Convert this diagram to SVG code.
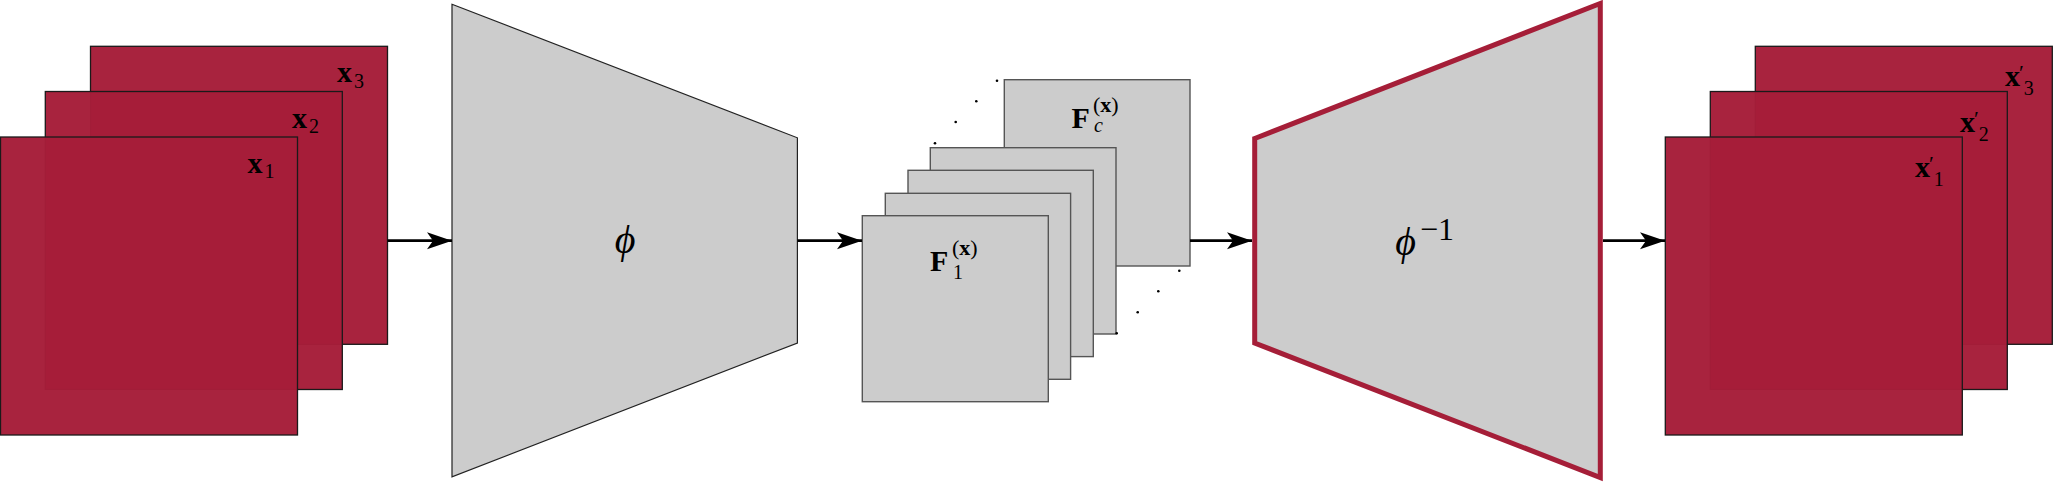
<svg xmlns="http://www.w3.org/2000/svg" width="2053" height="482" viewBox="0 0 2053 482">
<style>
.red{fill:#a61e39;fill-opacity:0.975;stroke:#1a1a1a;stroke-width:1.3}
.fm{fill:#cccccc;stroke:#555555;stroke-width:1.4}
.trap{fill:#cccccc;stroke:#222222;stroke-width:1.2}
.trapr{fill:#cccccc;stroke:#a51e38;stroke-width:5}
.lbl{font-family:"Liberation Serif","DejaVu Serif",serif;fill:#000}
.b{font-weight:bold;font-size:30px}
.s{font-size:20px}
.sp{font-size:22px}
.pr{font-size:22px}
.phi{font-family:"Liberation Serif","DejaVu Serif",serif;font-style:italic;font-size:40px;fill:#000}
.conn{stroke:#000;stroke-width:2.8;fill:none}
.dot{fill:#000}
</style>
<defs>
<marker id="stealth" markerUnits="userSpaceOnUse" viewBox="-26 -10 27 20" refX="0" refY="0" markerWidth="27" markerHeight="20" orient="auto">
<path d="M0,0 L-25,-8.5 L-19,0 L-25,8.5 Z" fill="#000"/>
</marker>
</defs>

<g id="input-stack">
<g id="x3"><rect class="red" x="90.5" y="46.3" width="297" height="298"/>
<text class="lbl b" x="337" y="81.7">x</text><text class="lbl s" x="354" y="87.5">3</text></g>
<g id="x2"><rect class="red" x="45.3" y="91.5" width="297" height="298"/>
<text class="lbl b" x="292" y="127.5">x</text><text class="lbl s" x="309" y="133">2</text></g>
<g id="x1"><rect class="red" x="0.5" y="137" width="297" height="298"/>
<text class="lbl b" x="247.5" y="172.5">x</text><text class="lbl s" x="264.5" y="178">1</text></g>
</g>

<g id="encoder">
<path class="trap" d="M452,4.3 L797.4,137.8 L797.4,343 L452,476.8 Z"/>
<text class="phi" x="625" y="253" text-anchor="middle">ϕ</text>
</g>

<g id="feature-maps">
<g id="Fc"><rect class="fm" x="1004.3" y="79.7" width="185.7" height="186.3"/>
<text class="lbl b" x="1071.5" y="128.3">F</text><text class="lbl sp" x="1093" y="112">(<tspan font-weight="bold">x</tspan>)</text><text class="lbl s" x="1094" y="132" font-style="italic">c</text></g>
<g id="F4"><rect class="fm" x="930.3" y="147.7" width="185.7" height="186.3"/></g>
<g id="F3"><rect class="fm" x="908" y="170.3" width="185.3" height="186.3"/></g>
<g id="F2"><rect class="fm" x="885.3" y="193.3" width="185.3" height="186"/></g>
<g id="F1"><rect class="fm" x="862.3" y="215.7" width="186" height="186"/>
<text class="lbl b" x="930" y="271">F</text><text class="lbl sp" x="952" y="255">(<tspan font-weight="bold">x</tspan>)</text><text class="lbl s" x="953" y="278.5">1</text></g>
<g id="dots">
<circle class="dot" cx="997" cy="80.7" r="1.3"/>
<circle class="dot" cx="976.3" cy="101.3" r="1.3"/>
<circle class="dot" cx="955.7" cy="122" r="1.3"/>
<circle class="dot" cx="935" cy="143.3" r="1.3"/>
<circle class="dot" cx="1179.3" cy="270.7" r="1.3"/>
<circle class="dot" cx="1158.3" cy="291.3" r="1.3"/>
<circle class="dot" cx="1137.7" cy="312.3" r="1.3"/>
<circle class="dot" cx="1116.7" cy="333.3" r="1.3"/>
</g>
</g>

<g id="decoder">
<path class="trapr" d="M1254.7,138.5 L1600.3,3.5 L1600.3,477.5 L1254.7,343 Z"/>
<text class="phi" x="1405.5" y="255" text-anchor="middle">ϕ</text>
<text class="lbl" x="1420" y="239.5" font-size="32">−1</text>
</g>

<g id="output-stack">
<g id="x3p"><rect class="red" x="1755.3" y="46.3" width="297" height="298"/>
<text class="lbl" x="2005" y="86"><tspan class="b">x</tspan><tspan class="pr" dx="-1" dy="-6">′</tspan><tspan class="s" dy="15">3</tspan></text></g>
<g id="x2p"><rect class="red" x="1710.3" y="91.5" width="297" height="298"/>
<text class="lbl" x="1960" y="131.7"><tspan class="b">x</tspan><tspan class="pr" dx="-1" dy="-6">′</tspan><tspan class="s" dy="15">2</tspan></text></g>
<g id="x1p"><rect class="red" x="1665.3" y="137" width="297" height="298"/>
<text class="lbl" x="1915" y="176.7"><tspan class="b">x</tspan><tspan class="pr" dx="-1" dy="-6">′</tspan><tspan class="s" dy="15">1</tspan></text></g>
</g>

<g id="connectors">
<line class="conn" x1="387.5" y1="240.7" x2="452" y2="240.7" marker-end="url(#stealth)"/>
<line class="conn" x1="797.4" y1="240.7" x2="862" y2="240.7" marker-end="url(#stealth)"/>
<line class="conn" x1="1190" y1="240.7" x2="1252" y2="240.7" marker-end="url(#stealth)"/>
<line class="conn" x1="1603" y1="240.7" x2="1665" y2="240.7" marker-end="url(#stealth)"/>
</g>
</svg>
